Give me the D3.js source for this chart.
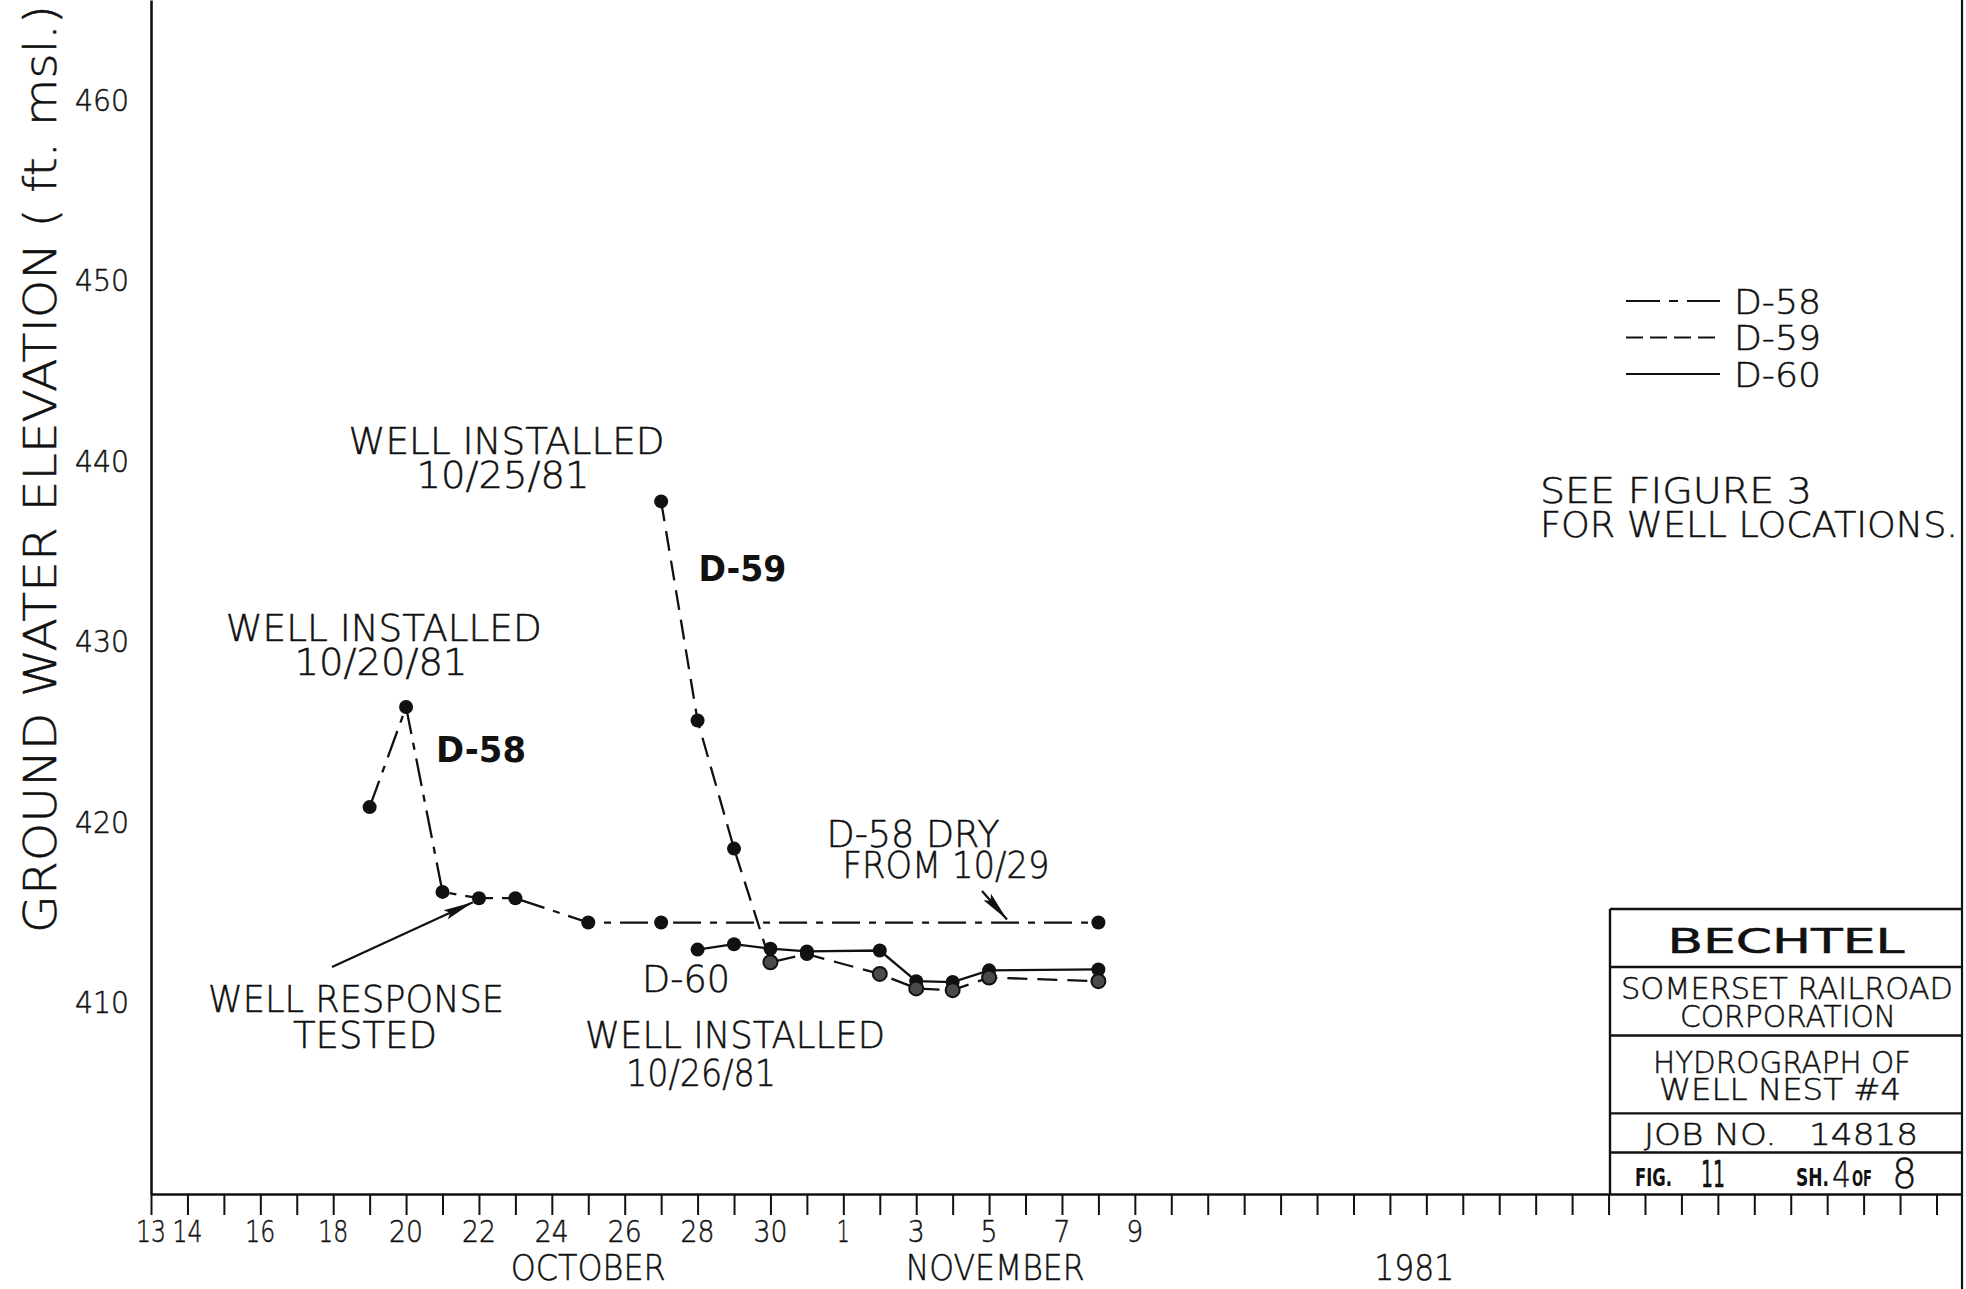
<!DOCTYPE html>
<html><head><meta charset="utf-8">
<script src="https://cdn.jsdelivr.net/npm/d3@7"></script>
<style>
html,body{margin:0;padding:0;background:#fff;}
svg{display:block;}
text{font-family:"DejaVu Sans","Liberation Sans",sans-serif;fill:#111;font-weight:200;white-space:pre;stroke:#111;stroke-width:0.5px;}
</style></head><body>
<svg id="chart" width="1966" height="1289"></svg>
<script>
// ---------------- DATA ----------------
const d58Dates  = ["1981-10-19","1981-10-20","1981-10-21","1981-10-22","1981-10-23","1981-10-25","1981-10-27","1981-11-08"];
const d58Values = [420.85, 426.4, 416.15, 415.8, 415.8, 414.45, 414.45, 414.45];

const d59Dates  = ["1981-10-27","1981-10-28","1981-10-29","1981-10-30","1981-10-31","1981-11-02","1981-11-03","1981-11-04","1981-11-05","1981-11-08"];
const d59Values = [437.8, 425.65, 418.55, 412.25, 412.7, 411.6, 410.8, 410.7, 411.4, 411.2];

const d60Dates  = ["1981-10-28","1981-10-29","1981-10-30","1981-10-31","1981-11-02","1981-11-03","1981-11-04","1981-11-05","1981-11-08"];
const d60Values = [412.95, 413.25, 413.0, 412.85, 412.9, 411.2, 411.15, 411.8, 411.85];

const yTickValues = [410, 420, 430, 440, 450, 460];
const xLabelDates = ["1981-10-13","1981-10-14","1981-10-16","1981-10-18","1981-10-20","1981-10-22","1981-10-24","1981-10-26","1981-10-28","1981-10-30","1981-11-01","1981-11-03","1981-11-05","1981-11-07","1981-11-09"];
const xLabelTexts = ["13","14","16","18","20","22","24","26","28","30","1","3","5","7","9"];
const periodLabels = ["OCTOBER","NOVEMBER","1981"];
const periodDates  = ["1981-10-25T00:00Z","1981-11-05T04:00Z","1981-11-16T16:00Z"];
const seriesNames = ["D-58","D-59","D-60"];

// ---------------- SETUP ----------------
const svg = d3.select("#chart");
const W = 1966, H = 1289;
const mLeft = 151, mRight = 1962, mBottom = 1194, mTop = 0;
const parse = s => new Date(s.length > 10 ? s : s + "T00:00Z");
const x = d3.scaleUtc().domain([parse("1981-10-13"), parse("1981-12-01T16:48Z")]).range([mLeft, mRight]);
const y = d3.scaleLinear().domain([399.4, 465.6]).range([mBottom, mTop]);

const styles = {
  "D-58": "28,9,7,9",
  "D-59": "20,10",
  "D-60": null
};

function label(g, t, o) {
  const el = g.append("text").text(t)
    .attr("x", o.x).attr("y", o.y)
    .attr("text-anchor", o.anchor || "middle")
    .style("font-size", o.size + "px");
  if (o.weight) el.style("font-weight", o.weight);
  if (o.family) el.style("font-family", o.family);
  if (o.w) el.attr("textLength", o.w).attr("lengthAdjust", "spacingAndGlyphs");
  return el;
}

// markers
const defs = svg.append("defs");
defs.append("marker").attr("id","arr").attr("viewBox","0 0 30 12").attr("refX",30).attr("refY",6)
  .attr("markerWidth",30).attr("markerHeight",12).attr("markerUnits","userSpaceOnUse").attr("orient","auto")
  .append("path").attr("d","M0,1 L30,6 L0,11 L5,6 Z").attr("fill","#111");

// ---------------- AXES ----------------
const gx = svg.append("g").attr("transform", `translate(0,${mBottom})`)
  .call(d3.axisBottom(x).ticks(d3.utcDay.every(1)).tickSize(21).tickSizeOuter(0).tickFormat(""));
gx.select(".domain").attr("stroke","#111").attr("stroke-width",2.6);
gx.selectAll(".tick line").attr("stroke","#111").attr("stroke-width",2);

const gxl = svg.append("g");
xLabelDates.forEach((d, i) => {
  const t = xLabelTexts[i];
  const ones = t.split("").filter(c => c === "1").length;
  const w = t.length * 17 - ones * 4;
  label(gxl, t, {x: x(parse(d)), y: 1242, size: 31, w: w});
});
periodLabels.forEach((t, i) => {
  const w = [155, 179, 80][i];
  label(gxl, t, {x: x(parse(periodDates[i])), y: 1280, size: 35, w: w});
});

const gy = svg.append("g").attr("transform", `translate(${mLeft},0)`)
  .call(d3.axisLeft(y).tickValues(yTickValues).tickSize(0).tickSizeOuter(0).tickPadding(22).tickFormat(d3.format("d")));
gy.select(".domain").attr("stroke","#111").attr("stroke-width",2.6);
gy.selectAll(".tick text").style("font-size","30px").style("font-family","DejaVu Sans, sans-serif").style("font-weight","200")
  .attr("fill","#111").attr("textLength",54).attr("lengthAdjust","spacingAndGlyphs");

// right border
svg.append("line").attr("x1",mRight).attr("x2",mRight).attr("y1",0).attr("y2",H)
  .attr("stroke","#111").attr("stroke-width",2.2);

// y title
label(svg.append("g").attr("transform","translate(56,469) rotate(-90)"),
  "GROUND WATER ELEVATION ( ft. msl.)", {x:0, y:0, size:44, w:928});

// ---------------- SERIES ----------------
const series = [
  {name:"D-58", dates:d58Dates, values:d58Values},
  {name:"D-59", dates:d59Dates, values:d59Values},
  {name:"D-60", dates:d60Dates, values:d60Values}
];
const line = d3.line().x(p => x(p.d)).y(p => y(p.v));
const plot = svg.append("g");
series.forEach(s => {
  const pts = s.dates.map((d, i) => ({d: parse(d), v: s.values[i]}));
  s.pts = pts;
  plot.append("path").datum(pts).attr("d", line).attr("fill","none")
    .attr("stroke","#111").attr("stroke-width",2.3)
    .attr("stroke-dasharray", styles[s.name]);
});
// points
series[0].pts.forEach(p => plot.append("circle").attr("cx",x(p.d)).attr("cy",y(p.v)).attr("r",7).attr("fill","#111"));
series[2].pts.forEach(p => plot.append("circle").attr("cx",x(p.d)).attr("cy",y(p.v)).attr("r",7).attr("fill","#111"));
series[1].pts.forEach((p, i) => {
  const late = i >= 3 && i !== 4;
  plot.append("circle").attr("cx",x(p.d)).attr("cy",y(p.v)).attr("r",7)
    .attr("fill", late ? "#4a4a4a" : "#111").attr("stroke","#111").attr("stroke-width", late ? 2 : 0);
});

// ---------------- LEGEND ----------------
const lg = svg.append("g");
seriesNames.forEach((n, i) => {
  const ly = 301 + i * 36.5;
  lg.append("line").attr("x1",1626).attr("x2",1720).attr("y1",ly).attr("y2",ly)
    .attr("stroke","#111").attr("stroke-width",2.2).attr("stroke-dasharray", n === "D-58" ? "34,9,9,9" : (n === "D-59" ? "17,7" : null));
  label(lg, n, {x:1734, y: ly + 12.5, size: 33, w: 87, anchor:"start"});
});
label(lg, "SEE FIGURE 3", {x:1540, y:503, size:35, w:272, anchor:"start"});
label(lg, "FOR WELL LOCATIONS.", {x:1540, y:537, size:35, w:418, anchor:"start"});

// ---------------- ANNOTATIONS ----------------
const an = svg.append("g");
label(an, "WELL INSTALLED", {x:506.6, y:454, size:37, w:316});
label(an, "10/25/81", {x:503, y:488, size:37, w:173});
label(an, "WELL INSTALLED", {x:383.7, y:640.7, size:37, w:316});
label(an, "10/20/81", {x:381, y:674.6, size:37, w:173});
label(an, "D-58", {x:436, y:762.4, size:36, w:90, anchor:"start", weight:"bold"}).style("stroke-width","0");
label(an, "D-59", {x:698.4, y:580.6, size:36, w:88, anchor:"start", weight:"bold"}).style("stroke-width","0");
label(an, "D-58 DRY", {x:913, y:846.5, size:37, w:173});
label(an, "FROM 10/29", {x:946, y:877.7, size:37, w:207});
label(an, "D-60", {x:686, y:992, size:37, w:88});
label(an, "WELL INSTALLED", {x:735, y:1048, size:37, w:300});
label(an, "10/26/81", {x:701, y:1086, size:37, w:150});
label(an, "WELL RESPONSE", {x:356, y:1012, size:37, w:296});
label(an, "TESTED", {x:365, y:1048, size:37, w:144});

// arrows pointing at data
const p22 = series[0].pts[3];
an.append("line").attr("x1",332).attr("y1",967).attr("x2",x(p22.d) - 6).attr("y2",y(p22.v) + 4)
  .attr("stroke","#111").attr("stroke-width",2.2).attr("marker-end","url(#arr)");
const pDry = series[0].pts[7];
an.append("line").attr("x1",982).attr("y1",891).attr("x2",1007).attr("y2",y(pDry.v) - 3)
  .attr("stroke","#111").attr("stroke-width",2.2).attr("marker-end","url(#arr)");

// ---------------- TITLE BLOCK ----------------
const tb = svg.append("g");
const tbL = 1610, tbR = mRight, rows = [909, 967, 1035.5, 1113.4, 1152.5, mBottom];
tb.append("line").attr("x1",tbL).attr("x2",tbL).attr("y1",rows[0]).attr("y2",mBottom).attr("stroke","#111").attr("stroke-width",2.4);
rows.slice(0,5).forEach(r => tb.append("line").attr("x1",tbL).attr("x2",tbR).attr("y1",r).attr("y2",r).attr("stroke","#111").attr("stroke-width",2.4));
label(tb, "BECHTEL", {x:1786, y:953, size:34, w:237, weight:"normal"});
label(tb, "SOMERSET RAILROAD", {x:1787, y:999, size:31, w:332});
label(tb, "CORPORATION", {x:1788, y:1027, size:31, w:216});
label(tb, "HYDROGRAPH OF", {x:1782, y:1073, size:31, w:258});
label(tb, "WELL NEST #4", {x:1780, y:1100, size:31, w:242});
label(tb, "JOB NO.   14818", {x:1781, y:1145, size:31, w:274});
label(tb, "FIG.", {x:1635, y:1186, size:24, w:37, anchor:"start", weight:"bold"}).style("stroke-width","0");
label(tb, "11", {x:1701, y:1187, size:38, w:24, anchor:"start", family:"Liberation Sans Narrow, DejaVu Sans Condensed, sans-serif"});
label(tb, "SH.", {x:1796, y:1186, size:24, w:33, anchor:"start", weight:"bold"}).style("stroke-width","0");
label(tb, "4", {x:1832, y:1187, size:36, w:19, anchor:"start"});
label(tb, "OF", {x:1852, y:1186, size:22, w:20, anchor:"start", weight:"bold"}).style("stroke-width","0");
label(tb, "8", {x:1892, y:1188, size:40, w:25, anchor:"start"});
</script>
</body></html>
